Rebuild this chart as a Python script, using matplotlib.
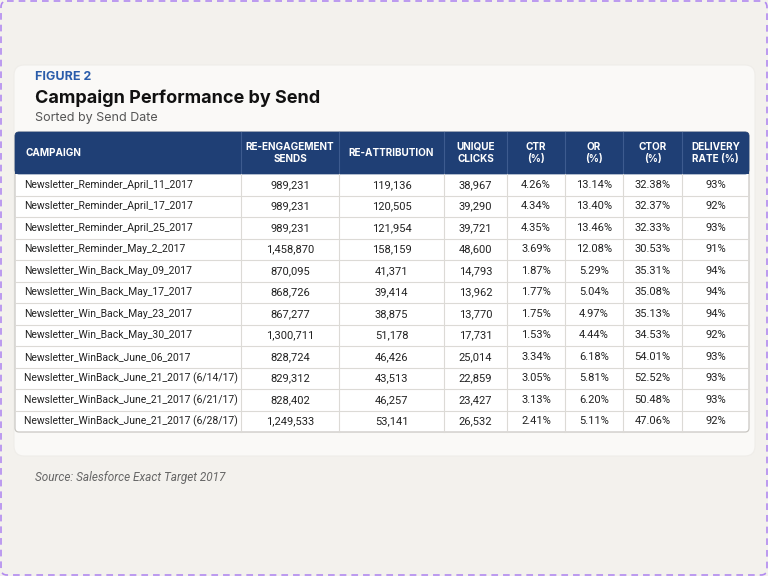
import matplotlib.pyplot as plt
from matplotlib.patches import Rectangle, FancyBboxPatch

# ---------------- data ----------------
campaigns = [
    "Newsletter_Reminder_April_11_2017",
    "Newsletter_Reminder_April_17_2017",
    "Newsletter_Reminder_April_25_2017",
    "Newsletter_Reminder_May_2_2017",
    "Newsletter_Win_Back_May_09_2017",
    "Newsletter_Win_Back_May_17_2017",
    "Newsletter_Win_Back_May_23_2017",
    "Newsletter_Win_Back_May_30_2017",
    "Newsletter_WinBack_June_06_2017",
    "Newsletter_WinBack_June_21_2017 (6/14/17)",
    "Newsletter_WinBack_June_21_2017 (6/21/17)",
    "Newsletter_WinBack_June_21_2017 (6/28/17)",
]
reengagement_sends = [989231, 989231, 989231, 1458870, 870095, 868726,
                      867277, 1300711, 828724, 829312, 828402, 1249533]
reattribution = [119136, 120505, 121954, 158159, 41371, 39414,
                 38875, 51178, 46426, 43513, 46257, 53141]
unique_clicks = [38967, 39290, 39721, 48600, 14793, 13962,
                 13770, 17731, 25014, 22859, 23427, 26532]
ctr = [4.26, 4.34, 4.35, 3.69, 1.87, 1.77, 1.75, 1.53, 3.34, 3.05, 3.13, 2.41]
open_rate = [13.14, 13.40, 13.46, 12.08, 5.29, 5.04, 4.97, 4.44, 6.18, 5.81, 6.20, 5.11]
ctor = [32.38, 32.37, 32.33, 30.53, 35.31, 35.08, 35.13, 34.53, 54.01, 52.52, 50.48, 47.06]
delivery_rate = [93, 92, 93, 91, 94, 94, 94, 92, 93, 93, 93, 92]

headers = ["CAMPAIGN", "RE-ENGAGEMENT\nSENDS", "RE-ATTRIBUTION", "UNIQUE\nCLICKS",
           "CTR\n(%)", "OR\n(%)", "CTOR\n(%)", "DELIVERY\nRATE (%)"]

# ---------------- layout (pixel coords) ----------------
col_edges = [15, 241, 339, 444, 507, 565, 623, 682, 749]
head_top, head_bot = 132, 174
row_h = 21.5

BG = "#f3f1ed"
CARD = "#faf9f7"
NAVY = "#1f3f75"
GRID = "#dcdad6"
TXT = "#222222"
BODY_FONT = ['Roboto', 'DejaVu Sans']

plt.rcParams['font.family'] = ['Inter', 'DejaVu Sans']

fig = plt.figure(figsize=(7.68, 5.76), dpi=100, facecolor=BG)
ax = fig.add_axes([0, 0, 1, 1])
ax.set_xlim(0, 768)
ax.set_ylim(576, 0)
ax.axis('off')

# dashed frame
ax.add_patch(FancyBboxPatch((1, 1), 766, 574, boxstyle="round,pad=0,rounding_size=6",
                            facecolor='none', edgecolor="#b28af0", lw=1.2,
                            linestyle=(0, (4, 3)), zorder=0))

# card
ax.add_patch(FancyBboxPatch((14, 65), 741, 391, boxstyle="round,pad=0,rounding_size=10",
                            facecolor=CARD, edgecolor="#efede9", lw=0.8, zorder=1))

ax.text(35, 77, "FIGURE 2", color="#2a5caa", fontsize=9, fontweight='bold',
        va='center', ha='left')
ax.text(35, 98, "Campaign Performance by Send", color="#111111", fontsize=13,
        fontweight='bold', va='center', ha='left')
ax.text(35, 118, "Sorted by Send Date", color="#555555", fontsize=9,
        va='center', ha='left')

n = len(campaigns)
table_bot = head_bot + n * row_h

# body background + outer border
ax.add_patch(FancyBboxPatch((col_edges[0], head_top), col_edges[-1] - col_edges[0],
                            table_bot - head_top,
                            boxstyle="round,pad=0,rounding_size=4",
                            facecolor="white", edgecolor="#c9c7c3", lw=0.9, zorder=2))
# header
ax.add_patch(FancyBboxPatch((col_edges[0], head_top), col_edges[-1] - col_edges[0],
                            head_bot - head_top,
                            boxstyle="round,pad=0,rounding_size=4",
                            facecolor=NAVY, edgecolor=NAVY, lw=0.5, zorder=3))
ax.add_patch(Rectangle((col_edges[0], head_top + 8), col_edges[-1] - col_edges[0],
                       head_bot - head_top - 8, facecolor=NAVY, edgecolor='none', zorder=3))

# column separators
for xe in col_edges[1:-1]:
    ax.plot([xe, xe], [head_top, head_bot], color="#3d5b8f", lw=0.8, zorder=4)
    ax.plot([xe, xe], [head_bot, table_bot], color=GRID, lw=0.8, zorder=4)

for i, h in enumerate(headers):
    if i == 0:
        ax.text(col_edges[0] + 10, (head_top + head_bot) / 2, h, color="white",
                fontsize=7.2, fontweight='bold', va='center', ha='left', zorder=5)
    else:
        ax.text((col_edges[i] + col_edges[i + 1]) / 2, (head_top + head_bot) / 2, h,
                color="white", fontsize=7.2, fontweight='bold', va='center',
                ha='center', linespacing=1.35, zorder=5)

# row lines
for r in range(1, n):
    y = head_bot + r * row_h
    ax.plot([col_edges[0], col_edges[-1]], [y, y], color=GRID, lw=0.8, zorder=4)

for r in range(n):
    yc = head_bot + (r + 0.5) * row_h
    vals = [f"{reengagement_sends[r]:,}", f"{reattribution[r]:,}",
            f"{unique_clicks[r]:,}", f"{ctr[r]:.2f}%", f"{open_rate[r]:.2f}%",
            f"{ctor[r]:.2f}%", f"{delivery_rate[r]}%"]
    ax.text(col_edges[0] + 9, yc, campaigns[r], color=TXT, fontsize=7.5,
            family=BODY_FONT, va='center', ha='left', zorder=5)
    for c, v in enumerate(vals):
        ax.text((col_edges[c + 1] + col_edges[c + 2]) / 2, yc, v, color=TXT,
                fontsize=8, family=BODY_FONT, va='center', ha='center', zorder=5)

ax.text(35, 478, "Source: Salesforce Exact Target 2017", color="#666666",
        fontsize=8.5, family=BODY_FONT, style='italic', va='center', ha='left')

fig.savefig("out.png", dpi=100, facecolor=BG)
